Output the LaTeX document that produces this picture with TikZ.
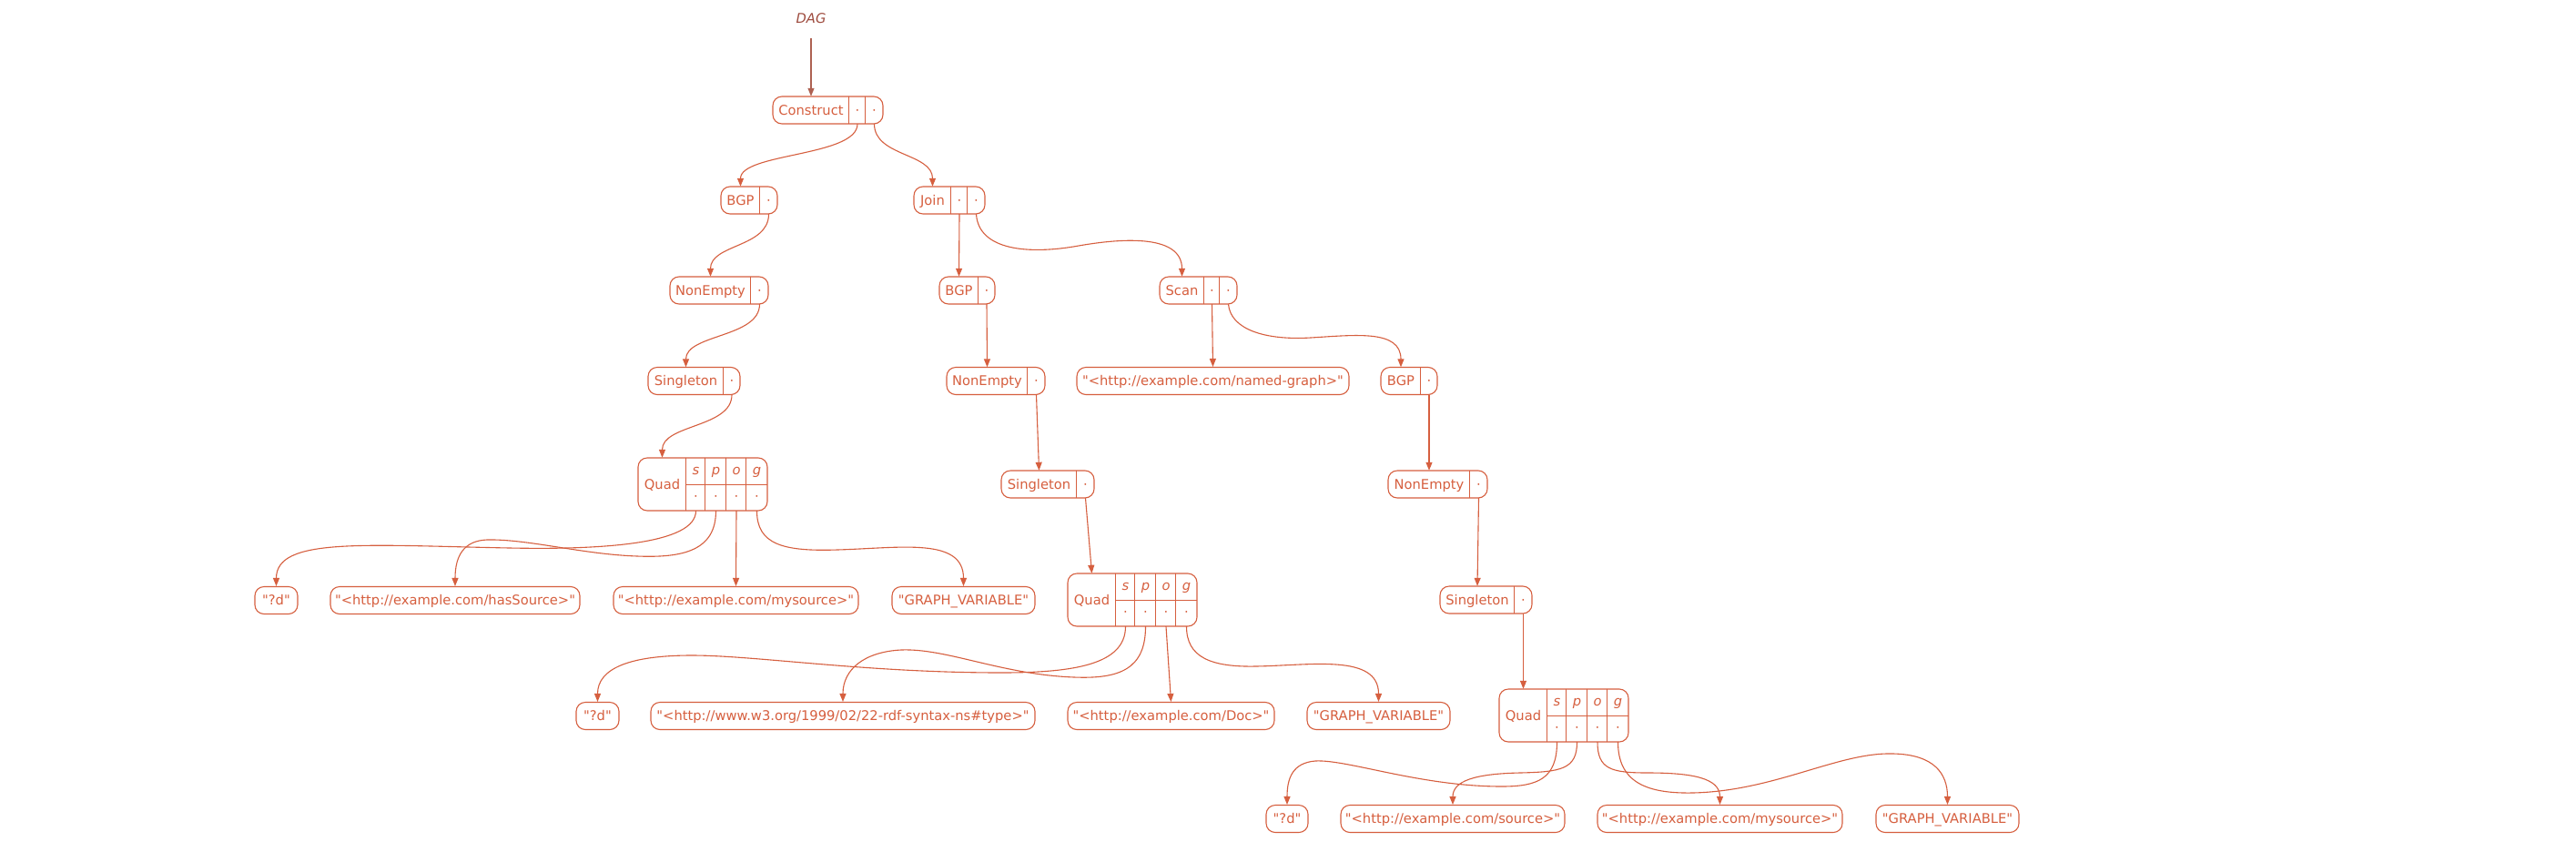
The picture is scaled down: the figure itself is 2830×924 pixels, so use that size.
\documentclass[tikz,border=0pt]{standalone}
\usepackage{fontspec}
\newfontfamily\dv{DejaVu Sans}
\usetikzlibrary{arrows.meta}
\definecolor{C}{HTML}{D65F3F}
\definecolor{dagc}{HTML}{9E4B3E}
\definecolor{dagl}{HTML}{AE6152}
\newcommand\fs{\dv\fontsize{14.7pt}{17pt}\selectfont}
\newcommand\dotc{\textperiodcentered}
% Quad record: name, left, top
\newcommand\quadrec[3]{%
  \node[rec, minimum width=142pt, minimum height=58pt] (#1) at ({#2+71},{#3+29}) {};
  \node[cell, minimum width=53pt, minimum height=58pt] (#1-l) at ({#2+26.5},{#3+29}) {Quad};
  \node[hcell, minimum width=21pt, font=\fs\itshape] (#1-ts) at ({#2+63.5},{#3+14.5}) {s};
  \node[hcell, minimum width=23pt, font=\fs\itshape] (#1-tp) at ({#2+85.5},{#3+14.5}) {p};
  \node[hcell, minimum width=22pt, font=\fs\itshape] (#1-to) at ({#2+108},{#3+14.5}) {o};
  \node[hcell, minimum width=23pt, font=\fs\itshape] (#1-tg) at ({#2+130.5},{#3+14.5}) {g};
  \node[hcell, minimum width=21pt] (#1-s) at ({#2+63.5},{#3+43.5}) {\dotc};
  \node[hcell, minimum width=23pt] (#1-p) at ({#2+85.5},{#3+43.5}) {\dotc};
  \node[hcell, minimum width=22pt] (#1-o) at ({#2+108},{#3+43.5}) {\dotc};
  \node[hcell, minimum width=23pt] (#1-g) at ({#2+130.5},{#3+43.5}) {\dotc};
  \draw[div] (#1-ts.north west) -- (#1-s.south west);
  \draw[div] (#1-tp.north west) -- (#1-p.south west);
  \draw[div] (#1-to.north west) -- (#1-o.south west);
  \draw[div] (#1-tg.north west) -- (#1-g.south west);
  \draw[div] (#1-ts.south west) -- (#1-tg.south east);
}
\begin{document}
\begin{tikzpicture}[x=1pt,y=-1pt,
  rec/.style={draw=C, line width=1.1pt, rounded corners=10pt, inner sep=0pt, minimum height=30pt},
  leaf/.style={rec, text=C, font=\fs, text height=10.5pt, text depth=0pt},
  cell/.style={inner sep=0pt, minimum height=30pt, text=C, font=\fs, text height=10.5pt, text depth=0pt},
  hcell/.style={cell, minimum height=29pt, text height=8pt},
  div/.style={draw=C, line width=1.1pt},
  edge/.style={draw=C, line width=1.1pt, -{Triangle[length=9pt,width=7pt]}},
]
\fill[white] (0,0) rectangle (2830,924);
\useasboundingbox (0,0) rectangle (2830,924);

% DAG
\node[font=\fs\itshape, text=dagc, inner sep=0pt, minimum height=44pt, text height=10.5pt, text depth=0pt] (dag) at (891,20) {DAG};

% Construct
\node[rec, minimum width=121pt] (con) at (909.5,121) {};
\node[cell, minimum width=84pt] (con-l) at (891,121) {Construct};
\node[cell, minimum width=18pt] (con-a) at (942,121) {\dotc};
\node[cell, minimum width=19pt] (con-b) at (960.5,121) {\dotc};
\draw[div] (con-a.north west) -- (con-a.south west);
\draw[div] (con-b.north west) -- (con-b.south west);

% BGP left
\node[rec, minimum width=62pt] (bgpl) at (823,220) {};
\node[cell, minimum width=43pt] (bgpl-l) at (813.5,220) {BGP};
\node[cell, minimum width=19pt] (bgpl-a) at (844.5,220) {\dotc};
\draw[div] (bgpl-a.north west) -- (bgpl-a.south west);

% Join
\node[rec, minimum width=78pt] (join) at (1043,220) {};
\node[cell, minimum width=41pt] (join-l) at (1024.5,220) {Join};
\node[cell, minimum width=18pt] (join-a) at (1054,220) {\dotc};
\node[cell, minimum width=19pt] (join-b) at (1072.5,220) {\dotc};
\draw[div] (join-a.north west) -- (join-a.south west);
\draw[div] (join-b.north west) -- (join-b.south west);

% NonEmpty left
\node[rec, minimum width=108pt] (nel) at (790,319) {};
\node[cell, minimum width=89pt] (nel-l) at (780.5,319) {NonEmpty};
\node[cell, minimum width=19pt] (nel-a) at (834.5,319) {\dotc};
\draw[div] (nel-a.north west) -- (nel-a.south west);

% BGP middle
\node[rec, minimum width=61pt] (bgpm) at (1062.5,319) {};
\node[cell, minimum width=43pt] (bgpm-l) at (1053.5,319) {BGP};
\node[cell, minimum width=18pt] (bgpm-a) at (1084,319) {\dotc};
\draw[div] (bgpm-a.north west) -- (bgpm-a.south west);

% Scan
\node[rec, minimum width=85pt] (scan) at (1316.5,319) {};
\node[cell, minimum width=49pt] (scan-l) at (1298.5,319) {Scan};
\node[cell, minimum width=17pt] (scan-a) at (1331.5,319) {\dotc};
\node[cell, minimum width=19pt] (scan-b) at (1349.5,319) {\dotc};
\draw[div] (scan-a.north west) -- (scan-a.south west);
\draw[div] (scan-b.north west) -- (scan-b.south west);

% Singleton left
\node[rec, minimum width=101pt] (singl) at (762.5,418.5) {};
\node[cell, minimum width=83pt] (singl-l) at (753.5,418.5) {Singleton};
\node[cell, minimum width=18pt] (singl-a) at (804,418.5) {\dotc};
\draw[div] (singl-a.north west) -- (singl-a.south west);

% NonEmpty middle
\node[rec, minimum width=108pt] (nem) at (1094,418.5) {};
\node[cell, minimum width=89pt] (nem-l) at (1084.5,418.5) {NonEmpty};
\node[cell, minimum width=19pt] (nem-a) at (1138.5,418.5) {\dotc};
\draw[div] (nem-a.north west) -- (nem-a.south west);

% named graph
\node[leaf, minimum width=299pt] (named) at (1332.5,418.5) {"<http://example.com/named-graph>"};

% BGP right
\node[rec, minimum width=62pt] (bgpr) at (1548,418.5) {};
\node[cell, minimum width=44pt] (bgpr-l) at (1539,418.5) {BGP};
\node[cell, minimum width=18pt] (bgpr-a) at (1570,418.5) {\dotc};
\draw[div] (bgpr-a.north west) -- (bgpr-a.south west);

% Quad left
\quadrec{ql}{701}{503}

% Singleton middle
\node[rec, minimum width=102pt] (singm) at (1151,532) {};
\node[cell, minimum width=83pt] (singm-l) at (1141.5,532) {Singleton};
\node[cell, minimum width=19pt] (singm-a) at (1192.5,532) {\dotc};
\draw[div] (singm-a.north west) -- (singm-a.south west);

% NonEmpty right
\node[rec, minimum width=109pt] (ner) at (1579.5,532) {};
\node[cell, minimum width=90pt] (ner-l) at (1570,532) {NonEmpty};
\node[cell, minimum width=19pt] (ner-a) at (1624.5,532) {\dotc};
\draw[div] (ner-a.north west) -- (ner-a.south west);

% leaves of Quad left
\node[leaf, minimum width=47pt] (dl) at (303.5,659.5) {"?d"};
\node[leaf, minimum width=274pt] (hs) at (500,659.5) {"<http://example.com/hasSource>"};
\node[leaf, minimum width=269pt] (msl) at (808.5,659.5) {"<http://example.com/mysource>"};
\node[leaf, minimum width=157pt] (gvl) at (1058.5,659.5) {"GRAPH\_VARIABLE"};

% Quad middle
\quadrec{qm}{1173}{630}

% Singleton right
\node[rec, minimum width=101pt] (singr) at (1632.5,659) {};
\node[cell, minimum width=82pt] (singr-l) at (1623,659) {Singleton};
\node[cell, minimum width=19pt] (singr-a) at (1673.5,659) {\dotc};
\draw[div] (singr-a.north west) -- (singr-a.south west);

% leaves of Quad middle
\node[leaf, minimum width=47pt] (dm) at (656.5,786.5) {"?d"};
\node[leaf, minimum width=422pt] (rdf) at (926,786.5) {"<http://www.w3.org/1999/02/22-rdf-syntax-ns\#type>"};
\node[leaf, minimum width=227pt] (doc) at (1286.5,786.5) {"<http://example.com/Doc>"};
\node[leaf, minimum width=157pt] (gvm) at (1514.5,786.5) {"GRAPH\_VARIABLE"};

% Quad right
\quadrec{qr}{1647}{757}

% leaves of Quad right
\node[leaf, minimum width=46pt] (dr) at (1414,899.5) {"?d"};
\node[leaf, minimum width=246pt] (src) at (1596,899.5) {"<http://example.com/source>"};
\node[leaf, minimum width=269pt] (msr) at (1889.5,899.5) {"<http://example.com/mysource>"};
\node[leaf, minimum width=157pt] (gvr) at (2139.5,899.5) {"GRAPH\_VARIABLE"};

% ---- edges ----
\draw[line width=1.1pt, draw=dagl, -{Triangle[length=9pt,width=7pt]}] (dag.south) -- (con-l.north);
\draw[edge] (con-a.south) .. controls (942,172) and (813.5,168) .. (bgpl-l.north);
\draw[edge] (con-b.south) .. controls (960.5,172) and (1024.5,168) .. (join-l.north);
\draw[edge] (join-a.south) -- (bgpm-l.north);
\draw[edge] (join-b.south) .. controls (1075,275) and (1130,280) .. (1185,270)
   .. controls (1225,263) and (1298.5,255) .. (scan-l.north);
\draw[edge] (bgpl-a.south) .. controls (844.5,272) and (780.5,268) .. (nel-l.north);
\draw[edge] (nel-a.south) .. controls (834.5,371) and (753.5,367) .. (singl-l.north);
\draw[edge] (singl-a.south) .. controls (804,470) and (727.5,466) .. (ql-l.north);
\draw[edge] (bgpm-a.south) -- (nem-l.north);
\draw[edge] (nem-a.south) -- (singm-l.north);
\draw[edge] (singm-a.south) -- (qm-l.north);
\draw[edge] (scan-a.south) -- (named.north);
\draw[edge] (scan-b.south) .. controls (1352,362) and (1390,374) .. (1440,371)
   .. controls (1490,368) and (1539,362) .. (bgpr-l.north);
\draw[edge] (bgpr-a.south) -- (ner-l.north);
\draw[edge] (ner-a.south) -- (singr-l.north);
\draw[edge] (singr-a.south) -- (qr-l.north);

% Quad left edges
\draw[edge] (ql-s.south) .. controls (764.5,598) and (660,604) .. (560,602)
   .. controls (400,599) and (303.5,590) .. (dl.north);
\draw[edge] (ql-p.south) .. controls (786.5,605) and (750,613) .. (700,611)
   .. controls (640,609) and (580,592) .. (535,593)
   .. controls (510,594) and (500,610) .. (hs.north);
\draw[edge] (ql-o.south) -- (msl.north);
\draw[edge] (ql-g.south) .. controls (831.5,598) and (860,606) .. (920,604)
   .. controls (990,602) and (1058.5,590) .. (gvl.north);

% Quad middle edges
\draw[edge] (qm-s.south) .. controls (1236.5,730) and (1180,739) .. (1100,739)
   .. controls (950,739) and (830,720) .. (760,720)
   .. controls (690,720) and (656.5,735) .. (dm.north);
\draw[edge] (qm-p.south) .. controls (1258.5,735) and (1230,746) .. (1180,744)
   .. controls (1100,741) and (1040,712) .. (990,714)
   .. controls (950,716) and (926,735) .. (rdf.north);
\draw[edge] (qm-o.south) -- (doc.north);
\draw[edge] (qm-g.south) .. controls (1303.5,722) and (1330,733) .. (1380,732)
   .. controls (1440,731) and (1514.5,718) .. (gvm.north);

% Quad right edges
\draw[edge] (qr-s.south) .. controls (1710.5,855) and (1690,864) .. (1650,864)
   .. controls (1560,864) and (1480,834) .. (1445,836)
   .. controls (1420,838) and (1414,855) .. (dr.north);
\draw[edge] (qr-p.south) .. controls (1732.5,845) and (1715,848) .. (1670,849)
   .. controls (1620,850) and (1596,858) .. (src.north);
\draw[edge] (qr-o.south) .. controls (1755,845) and (1770,849) .. (1810,849)
   .. controls (1860,849) and (1889.5,855) .. (msr.north);
\draw[edge] (qr-g.south) .. controls (1777.5,860) and (1810,872) .. (1860,871)
   .. controls (1950,869) and (2020,826) .. (2080,828)
   .. controls (2125,829) and (2139.5,850) .. (gvr.north);
\end{tikzpicture}
\end{document}
